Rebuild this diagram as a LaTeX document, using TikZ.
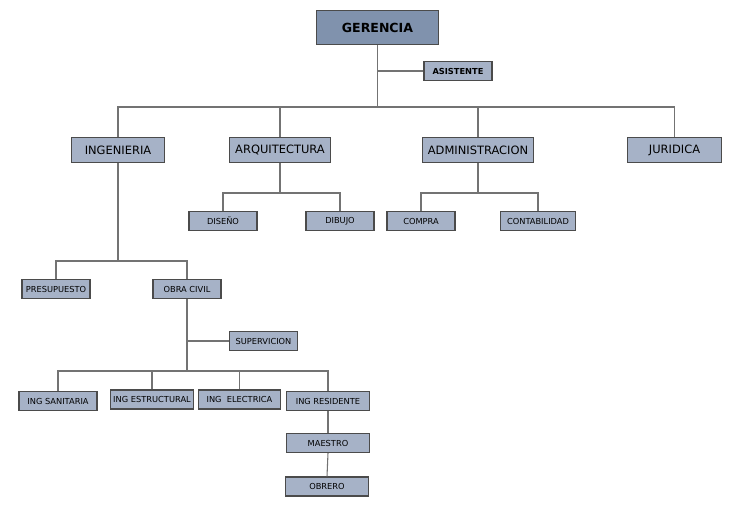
\documentclass[tikz,border=0pt]{standalone}
\usepackage{fontspec}
\setmainfont{DejaVu Sans}
\usepackage{xcolor}
\usepackage{tikz}

\definecolor{boxfill}{RGB}{166,178,199}
\definecolor{topfill}{RGB}{128,146,173}
\definecolor{boxline}{RGB}{75,75,75}
\definecolor{linkgray}{RGB}{115,115,115}

\begin{document}
\begin{tikzpicture}[x=0.75pt, y=-0.75pt,
    unit/.style={draw=boxline, fill=boxfill, line width=0.8pt, inner sep=0pt},
    bigunit/.style={unit, minimum height=19pt, font=\fontsize{8.6}{10}\selectfont},
    smallunit/.style={unit, minimum height=14.25pt, font=\fontsize{6.2}{7}\selectfont},
    link/.style={draw=linkgray, line width=0.8pt}]
        \useasboundingbox (0,0) rectangle (750,506);

        % Top
        \node[unit, fill=topfill, minimum width=92pt, minimum height=26pt,
              font=\fontsize{9.4}{11}\bfseries] (ger) at (377.5,27.5) {GERENCIA};
        \node[smallunit, minimum width=51pt, font=\fontsize{6.2}{7}\bfseries] (asi) at (458,71) {ASISTENTE};

        % Departments
        \foreach \name/\x/\w/\txt in {
            ing/118/70/INGENIERIA,
            arq/280/76/ARQUITECTURA,
            adm/478/83/ADMINISTRACION,
            jur/674.5/70/JURIDICA
        } {
            \node[bigunit, minimum width=\w pt] (\name) at (\x,150) {\txt};
        }

        % Sections
        \foreach \name/\x/\y/\w/\txt in {
            dis/223/221/51/DISEÑO,
            dib/340/221/51/DIBUJO,
            com/421/221/51/COMPRA,
            con/538/221/56/CONTABILIDAD,
            pre/56/289/51/PRESUPUESTO,
            obr/187/289/51/OBRA CIVIL,
            sup/263.5/341/51/SUPERVICION,
            san/58/401/58.5/ING SANITARIA,
            est/152/399.5/62/ING ESTRUCTURAL,
            ele/239.5/399.5/61.5/ING\ \ ELECTRICA,
            res/328/401/62/ING RESIDENTE,
            mae/328/443/62/MAESTRO,
            obe/327/486.5/62/OBRERO
        } {
            \node[smallunit, minimum width=\w pt] (\name) at (\x,\y) {\txt};
        }

        % Bus points
        \coordinate (topbus) at (377.5,107);
        \coordinate (arqbus) at (280,193);
        \coordinate (admbus) at (478,193);
        \coordinate (ingbus) at (118,261);
        \coordinate (obrbus) at (187,371);

        % Links
        \draw[link] (ger.south) -- (topbus);
        \draw[link] (ger.south |- asi.west) -- (asi.west);
        \draw[link] (ing.north) |- (topbus) -| (jur.north);
        \foreach \n in {arq,adm} {
            \draw[link] (\n.north) -- (\n.north |- topbus);
        }
        \draw[link] (arq.south) -- (arqbus);
        \draw[link] (dis.north) |- (arqbus) -| (dib.north);
        \draw[link] (adm.south) -- (admbus);
        \draw[link] (com.north) |- (admbus) -| (con.north);
        \draw[link] (ing.south) -- (ingbus);
        \draw[link] (pre.north) |- (ingbus) -| (obr.north);
        \draw[link] (obr.south) -- (obrbus);
        \draw[link] (obr.south |- sup.west) -- (sup.west);
        \draw[link] (san.north) |- (obrbus) -| (res.north);
        \foreach \n in {est,ele} {
            \draw[link] (\n.north) -- (\n.north |- obrbus);
        }
        \draw[link] (res.south) -- (mae.north);
        \draw[link] (mae.south) -- (obe.north);
    \end{tikzpicture}
\end{document}
